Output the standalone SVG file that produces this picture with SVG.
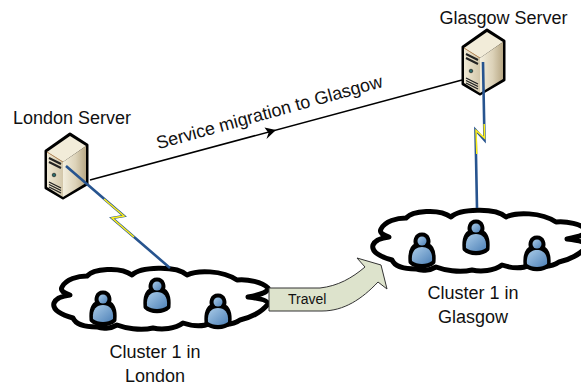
<svg xmlns="http://www.w3.org/2000/svg" width="581" height="385" viewBox="0 0 581 385">
<style>
text{font-family:"Liberation Sans",Arial,sans-serif;fill:#111}
.lbl{font-size:18px;text-anchor:middle}
.cloud{fill:#fff;stroke:#000;stroke-width:5;stroke-linejoin:round}
.boltb{fill:none;stroke:#27548f;stroke-width:2.600;stroke-linejoin:miter}
.bolty{fill:none;stroke:#ffef1a;stroke-width:1.500;stroke-linejoin:miter}
</style>
<defs>
<linearGradient id="blueg" x1="0" y1="0" x2="1" y2="1"><stop offset="0" stop-color="#a9cbe8"/><stop offset="1" stop-color="#4f82b8"/></linearGradient>
<linearGradient id="side" x1="0" y1="0" x2="1" y2="0"><stop offset="0" stop-color="#f3eedd"/><stop offset=".55" stop-color="#dcd2b8"/><stop offset="1" stop-color="#b8a885"/></linearGradient>
<linearGradient id="front" x1="0" y1="0" x2="1" y2="0"><stop offset="0" stop-color="#f0ead6"/><stop offset="1" stop-color="#d3c7aa"/></linearGradient>
<g id="person">
<path d="M-11 9C-12 -3 -8 -7 -5 -8C-7 -11 -6 -18 0 -18C6 -18 7 -11 5 -8C8 -7 12 -3 11 9C6 14 -6 14 -11 9Z" fill="#000" stroke="#000" stroke-width="5" stroke-linejoin="round"/>
<path d="M-10 8C-11 -2 -6 -6 0 -6C6 -6 11 -2 10 8C5 12 -5 12 -10 8Z" fill="url(#blueg)"/>
<circle cx="0" cy="-12" r="4.500" fill="url(#blueg)"/>
</g>
<g id="cloudshape">
<path class="cloud" d="M62 287C66 279 78 276 87 276C93 269 120 266 132 275C140 267 176 265 187 275C197 270 222 270 237 280C248 279 262 282 268 288C268 293 258 295 248 297C256 298 268 300 268 304C262 312 250 318 240 320C232 326 218 325 210 323C203 327 192 326 183 323C175 329 162 330 153 328C140 331 125 328 117 325C110 329 102 329 97 327C85 327 76 325 73 318C62 315 52 310 54 303C56 298 62 296 70 295C64 293 60 291 62 287Z"/>
<use href="#person" x="103" y="311"/>
<use href="#person" x="157" y="298"/>
<use href="#person" x="218" y="314"/>
</g>
<g id="server">
<path d="M46 151L70 134L87 145V184L63 198L46 188Z" fill="#000" stroke="#000" stroke-width="3" stroke-linejoin="round"/>
<path d="M47 152L70 136L86 146L63 162Z" fill="#f2ecd9"/>
<path d="M63 162L86 146V183L63 197Z" fill="url(#side)"/>
<path d="M47 152L63 162V197L47 187Z" fill="url(#front)"/>
<path d="M47 152L63 162" stroke="#b98a5a" stroke-width="1" fill="none"/>
<path d="M49 158L61 164M49 162L61 168" stroke="#222" stroke-width="2"/>
<circle cx="54" cy="175" r="1.800" fill="#2a6a6a" stroke="#111" stroke-width=".6"/>
<path d="M49 182L61 188M49 184.500L61 190.500M49 187L61 193" stroke="#222" stroke-width="1.300"/>
</g>
</defs>

<g id="connectors">
<path d="M90 180L462 80" fill="none" stroke="#000" stroke-width="1.500"/>
<path d="M276 130L264.500 127.500L268.500 133L266.500 139Z" fill="#000"/>
</g>

<g id="cluster-london"><use href="#cloudshape"/></g>
<g id="cluster-glasgow"><use href="#cloudshape" x="319" y="-58"/></g>

<g id="server-london"><use href="#server"/></g>
<g id="server-glasgow"><use href="#server" x="417" y="-104"/></g>

<g id="link-london">
<path class="boltb" d="M66 166L124 216L112 218L170 268"/>
<path class="bolty" d="M104 199L124 216L112 218L134 237"/>
</g>
<g id="link-glasgow">
<path class="boltb" d="M483 62L484.500 140L475.500 130L477 208"/>
<path class="bolty" d="M484.200 124L484.500 138L476 130.500L476.800 154"/>
</g>

<g id="travel-arrow">
<path d="M269 288H320C338 286 352 278 365 267L357 258L381 265L387 289L378 282C362 299 344 311 322 311H269Z" fill="#dde3cc" stroke="#333" stroke-width="1"/>
<text x="288" y="304" font-size="14">Travel</text>
</g>

<text class="lbl" x="72" y="124">London Server</text>
<text class="lbl" x="503.500" y="24">Glasgow Server</text>
<text class="lbl" transform="translate(271 118) rotate(-15.500)">Service migration to Glasgow</text>
<text class="lbl" x="155" y="358">Cluster 1 in</text>
<text class="lbl" x="155" y="382">London</text>
<text class="lbl" x="473" y="299">Cluster 1 in</text>
<text class="lbl" x="473" y="323">Glasgow</text>
</svg>
